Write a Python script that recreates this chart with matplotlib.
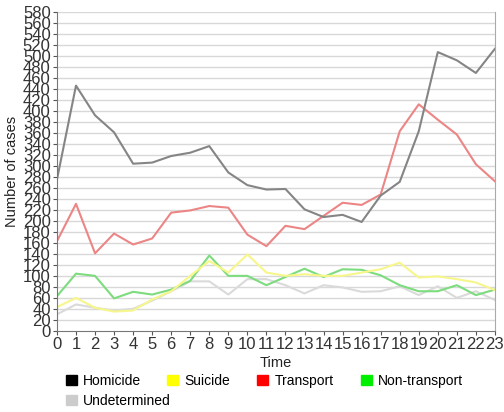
import matplotlib
matplotlib.use("Agg")
import matplotlib.pyplot as plt
from matplotlib.patches import Patch

plt.rcParams["font.family"] = ["Liberation Sans", "DejaVu Sans"]

hours = list(range(24))
homicide = [275, 446, 392, 361, 304, 306, 318, 324, 336, 288, 265, 257, 258, 221, 207, 211, 198, 246, 271, 363, 507, 492, 469, 513]
suicide = [43, 60, 42, 35, 37, 57, 72, 100, 127, 106, 139, 106, 100, 103, 100, 100, 106, 112, 124, 97, 99, 94, 88, 74]
transport = [163, 231, 141, 177, 157, 168, 215, 219, 227, 224, 175, 154, 191, 185, 209, 233, 229, 248, 363, 412, 384, 357, 303, 272]
non_transport = [63, 104, 100, 59, 71, 66, 75, 91, 137, 100, 100, 83, 98, 113, 98, 112, 111, 101, 83, 72, 72, 83, 65, 75]
undetermined = [30, 48, 42, 37, 40, 55, 72, 90, 90, 66, 94, 94, 83, 68, 83, 79, 71, 72, 81, 65, 81, 60, 72, 56]
yticks = list(range(0, 581, 20))

series = {
    "Homicide": (homicide, "#858585", "black"),
    "Suicide": (suicide, "#f6f68a", "#ffff00"),
    "Transport": (transport, "#ec8585", "#ff0000"),
    "Non-transport": (non_transport, "#7ddc7d", "#00ee00"),
    "Undetermined": (undetermined, "#dadada", "#cccccc"),
}

fig = plt.figure(figsize=(5.04, 4.12), dpi=100)
ax = fig.add_axes([0.113, 0.197, 0.869, 0.774])

for y in yticks[1:]:
    ax.axhline(y, color="#d8d8d8", lw=1, zorder=0)

for name in ["Undetermined", "Non-transport", "Suicide", "Transport", "Homicide"]:
    vals, lc, _ = series[name]
    ax.plot(hours, vals, color=lc, lw=1.5, zorder=2)

ax.set_xlim(0, 23)
ax.set_ylim(0, 580)
ax.set_xticks(hours)
ax.set_yticks(yticks)
ax.tick_params(axis="both", labelsize=12, colors="#555555", length=3, width=0.8, labelcolor="#333333", pad=1.5)
for s in ["left", "bottom"]:
    ax.spines[s].set_color("#777777")
ax.spines["right"].set_color("#aaaaaa")
ax.spines["top"].set_visible(False)

ax.set_xlabel("Time", fontsize=10.5, labelpad=3, color="#222222")
ax.set_ylabel("Number of cases", fontsize=10.5, color="#222222")
ax.yaxis.set_label_coords(-0.087, 0.5)

# legend entries placed individually (pixel anchor positions of each swatch)
legend_pos = {
    "Homicide": (66, 381),
    "Suicide": (167, 381),
    "Transport": (257, 381),
    "Non-transport": (361, 381),
    "Undetermined": (66, 401),
}
W, H = 504, 412
for name, (px, py) in legend_pos.items():
    c = series[name][2]
    fig.legend(handles=[Patch(facecolor=c, edgecolor=c, label=name)], loc="center left",
               bbox_to_anchor=(px / W, 1 - py / H), frameon=False, fontsize=10,
               handlelength=0.8, handleheight=0.8, handletextpad=0.45,
               borderaxespad=0, borderpad=0)

fig.savefig("out.png", dpi=100, facecolor="white")
